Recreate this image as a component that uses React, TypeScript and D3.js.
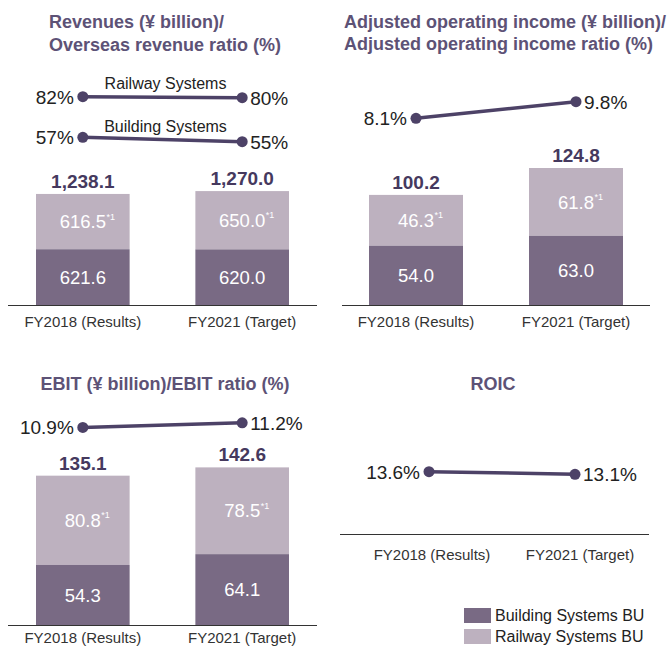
import * as d3 from "d3";

const years = ["FY2018 (Results)", "FY2021 (Target)"];

// Revenues
const revBuilding = [621.6, 620.0];
const revRailway = [616.5, 650.0];
const revTotal = ["1,238.1", "1,270.0"];
const overseasRailway = [82, 80];
const overseasBuilding = [57, 55];

// Adjusted operating income
const aoiBuilding = [54.0, 63.0];
const aoiRailway = [46.3, 61.8];
const aoiTotal = ["100.2", "124.8"];
const aoiRatio = [8.1, 9.8];

// EBIT
const ebitBuilding = [54.3, 64.1];
const ebitRailway = [80.8, 78.5];
const ebitTotal = ["135.1", "142.6"];
const ebitRatio = [10.9, 11.2];

// ROIC
const roic = [13.6, 13.1];

const legendItems = ["Building Systems BU", "Railway Systems BU"];

const DARK = "#796a84";
const LIGHT = "#bdb1bf";
const LINE = "#4d4267";
const TITLE = "#5d5276";
const TOTAL = "#45395e";
const FONT = "'Liberation Sans', Arial, Helvetica, sans-serif";

const textW = (s: string, fs: number) =>
  s.split("").reduce((a, c) => a + (c === "." || c === "," ? 0.278 : 0.556), 0) * fs;

type BarProps = {
  x0: number;
  x1: number;
  axisX0: number;
  axisX1: number;
  base: number;
  max: number;
  top: number;
  building: number[];
  railway: number[];
  totals: string[];
  labelDy?: number;
};

function Bars(p: BarProps) {
  const x = d3.scaleBand<string>().domain(years).range([p.x0, p.x1]).paddingInner(0.4125).paddingOuter(0);
  const y = d3.scaleLinear().domain([0, p.max]).range([p.base, p.top]);
  const bw = x.bandwidth();
  return (
    <g>
      {years.map((yr, i) => {
        const bx = x(yr)!;
        const cx = bx + bw / 2;
        const b = p.building[i];
        const r = p.railway[i];
        const yb = y(b);
        const yt = y(b + r);
        const rTxt = r.toFixed(1);
        return (
          <g key={yr}>
            <rect x={bx} y={yt} width={bw} height={yb - yt} fill={LIGHT} />
            <rect x={bx} y={yb} width={bw} height={p.base - yb} fill={DARK} />
            <text x={cx} y={(yt + yb) / 2} dy="0.36em" textAnchor="middle" fontSize={18.5} fill="#fff">
              {rTxt}
            </text>
            <text x={cx + textW(rTxt, 18.5) / 2 + 0.5} y={(yt + yb) / 2 - 2} fontSize={9} fill="#fff">
              *1
            </text>
            <text x={cx} y={(yb + p.base) / 2} dy="0.36em" textAnchor="middle" fontSize={18.5} fill="#fff">
              {b.toFixed(1)}
            </text>
            <text x={cx} y={yt - 6} textAnchor="middle" fontSize={19} fontWeight={700} fill={TOTAL}>
              {p.totals[i]}
            </text>
            <text x={cx} y={p.base + (p.labelDy ?? 22)} textAnchor="middle" fontSize={15} fill="#333">
              {yr}
            </text>
          </g>
        );
      })}
      <line x1={p.axisX0} x2={p.axisX1} y1={p.base + 0.5} y2={p.base + 0.5} stroke="#333" strokeWidth={1} />
    </g>
  );
}

type RatioProps = {
  xs: number[];
  vals: number[];
  y: d3.ScaleLinear<number, number>;
  label?: string;
};

function Ratio({ xs, vals, y, label }: RatioProps) {
  const pts: [number, number][] = vals.map((v, i) => [xs[i], y(v)]);
  const line = d3.line();
  const mid = (pts[0][1] + pts[1][1]) / 2;
  return (
    <g>
      <path d={line(pts) || ""} stroke={LINE} strokeWidth={3.5} fill="none" />
      {pts.map((pt, i) => (
        <circle key={i} cx={pt[0]} cy={pt[1]} r={5.5} fill={LINE} />
      ))}
      <text x={pts[0][0] - 9} y={pts[0][1]} dy="0.36em" textAnchor="end" fontSize={19} fill="#222">
        {vals[0] + "%"}
      </text>
      <text x={pts[1][0] + 8} y={pts[1][1]} dy="0.36em" fontSize={19} fill="#222">
        {vals[1] + "%"}
      </text>
      {label && (
        <text x={(pts[0][0] + pts[1][0]) / 2 + 3} y={mid - 8} textAnchor="middle" fontSize={16} fill="#222">
          {label}
        </text>
      )}
    </g>
  );
}

export default function App() {
  const bandCenters = (a: number, b: number) => {
    const x = d3.scaleBand<string>().domain(years).range([a, b]).paddingInner(0.4125).paddingOuter(0);
    return years.map((yr) => x(yr)! + x.bandwidth() / 2);
  };
  const c1 = bandCenters(36, 289);
  const c2 = bandCenters(369, 623);
  const roicX = d3.scalePoint<string>().domain(years).range([429, 575]);
  const c4 = years.map((yr) => roicX(yr)!);

  return (
    <svg
      width={669}
      height={648}
      style={{ position: "absolute", left: 0, top: 0, background: "#fff" }}
      fontFamily={FONT}
    >
      {/* Panel 1: Revenues */}
      <text x={49} y={28} fontSize={18} fontWeight={700} fill={TITLE}>
        Revenues (¥ billion)/
      </text>
      <text x={49} y={51} fontSize={18} fontWeight={700} fill={TITLE}>
        Overseas revenue ratio (%)
      </text>
      <Ratio xs={c1} vals={overseasRailway} y={d3.scaleLinear().domain([0, 100]).range([137.7, 87.7])} label="Railway Systems" />
      <Ratio xs={c1} vals={overseasBuilding} y={d3.scaleLinear().domain([0, 100]).range([262.7, 42.7])} label="Building Systems" />
      <Bars x0={36} x1={289} axisX0={8} axisX1={317} base={305} max={1300} top={188.4} building={revBuilding} railway={revRailway} totals={revTotal} />

      {/* Panel 2: Adjusted operating income */}
      <text x={344} y={28} fontSize={18} fontWeight={700} fill={TITLE}>
        Adjusted operating income (¥ billion)/
      </text>
      <text x={344} y={50} fontSize={18} fontWeight={700} fill={TITLE}>
        Adjusted operating income ratio (%)
      </text>
      <Ratio xs={c2} vals={aoiRatio} y={d3.scaleLinear().domain([0, 10]).range([197.7, 99.7])} />
      <Bars x0={369} x1={623} axisX0={342} axisX1={650} base={305} max={130} top={162.3} building={aoiBuilding} railway={aoiRailway} totals={aoiTotal} />

      {/* Panel 3: EBIT */}
      <text x={165} y={390} textAnchor="middle" fontSize={18} fontWeight={700} fill={TITLE}>
        EBIT (¥ billion)/EBIT ratio (%)
      </text>
      <Ratio xs={c1} vals={ebitRatio} y={d3.scaleLinear().domain([0, 12]).range([594.2, 410.6])} />
      <Bars x0={36} x1={289} axisX0={8} axisX1={317} base={625} max={150} top={459.2} building={ebitBuilding} railway={ebitRailway} totals={ebitTotal} labelDy={18} />

      {/* Panel 4: ROIC */}
      <text x={493} y={390} textAnchor="middle" fontSize={18} fontWeight={700} fill={TITLE}>
        ROIC
      </text>
      <Ratio xs={c4} vals={roic} y={d3.scaleLinear().domain([0, 15]).range([542.4, 464.4])} />
      <line x1={340} x2={649} y1={534.5} y2={534.5} stroke="#333" strokeWidth={1} />
      {years.map((yr, i) => (
        <text key={yr} x={c4[i] + (i === 0 ? 3 : 5)} y={560} textAnchor="middle" fontSize={15} fill="#333">
          {yr}
        </text>
      ))}

      {/* Legend */}
      {legendItems.map((name, i) => (
        <g key={name} transform={`translate(464, ${608 + i * 21})`}>
          <rect width={27} height={15} fill={i === 0 ? DARK : LIGHT} />
          <text x={31} y={7.5} dy="0.36em" fontSize={16} fill="#222">
            {name}
          </text>
        </g>
      ))}
    </svg>
  );
}
